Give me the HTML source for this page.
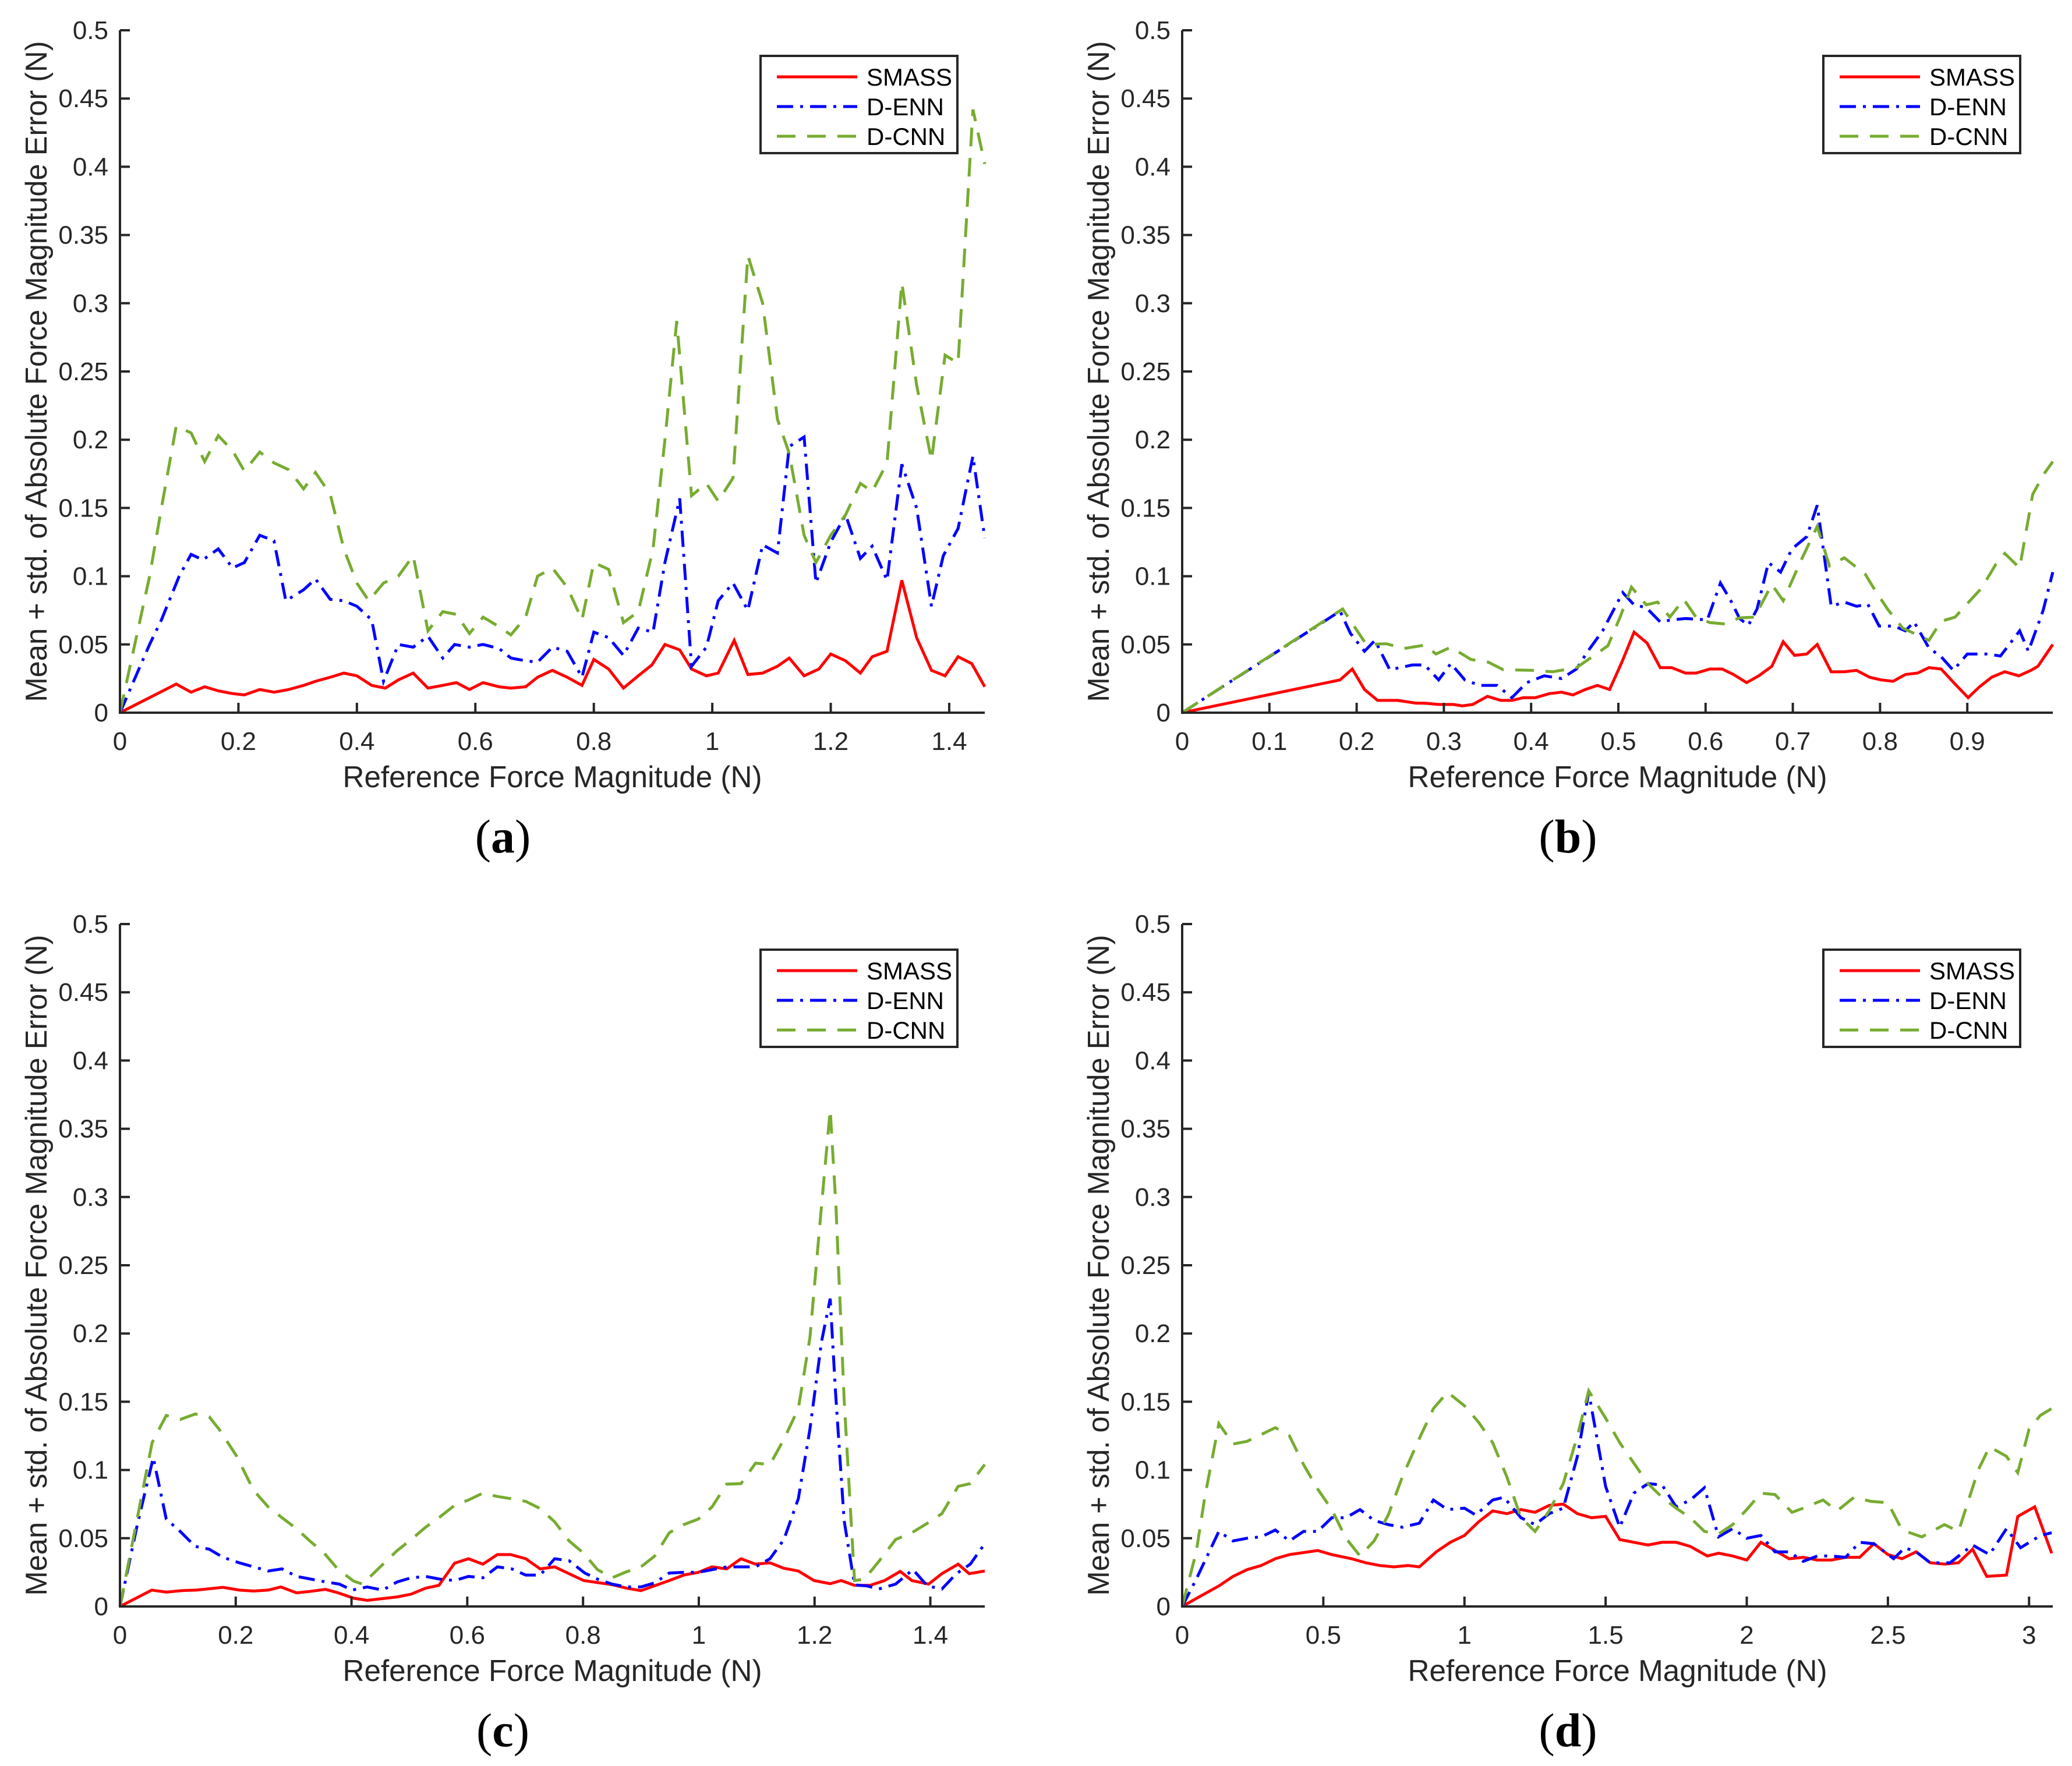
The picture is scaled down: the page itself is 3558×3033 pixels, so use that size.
<!DOCTYPE html>
<html><head><meta charset="utf-8">
<style>
html,body{margin:0;padding:0;background:#fff;}
svg{display:block;}
text{font-family:"Liberation Sans",Arial,sans-serif;fill:#262626;}
</style></head>
<body>
<svg id="fig" width="3558" height="3033" viewBox="0 0 3558 3033" xmlns="http://www.w3.org/2000/svg"></svg>
<script>
// ---------- Panel (a) data ----------
const aSmassX=[0,0.095,0.12,0.143,0.166,0.19,0.21,0.236,0.26,0.285,0.31,0.33,0.355,0.378,0.40,0.425,0.448,0.47,0.495,0.52,0.545,0.568,0.59,0.613,0.64,0.66,0.685,0.705,0.73,0.755,0.78,0.80,0.825,0.85,0.875,0.898,0.92,0.945,0.965,0.99,1.01,1.037,1.06,1.085,1.11,1.13,1.155,1.18,1.2,1.225,1.25,1.27,1.295,1.32,1.345,1.37,1.393,1.415,1.438,1.46];
const aSmassY=[0,0.021,0.015,0.019,0.016,0.014,0.013,0.017,0.015,0.017,0.020,0.023,0.026,0.029,0.027,0.020,0.018,0.024,0.029,0.018,0.020,0.022,0.017,0.022,0.019,0.018,0.019,0.026,0.031,0.026,0.020,0.039,0.032,0.018,0.027,0.035,0.050,0.046,0.032,0.027,0.029,0.053,0.028,0.029,0.034,0.040,0.027,0.032,0.043,0.038,0.029,0.041,0.045,0.097,0.055,0.031,0.027,0.041,0.036,0.019];
const aEnnX=[0,0.05,0.07,0.1,0.12,0.14,0.166,0.19,0.21,0.236,0.26,0.28,0.31,0.33,0.355,0.378,0.40,0.425,0.445,0.47,0.495,0.52,0.545,0.565,0.59,0.613,0.64,0.66,0.685,0.705,0.73,0.755,0.78,0.80,0.825,0.85,0.875,0.9,0.92,0.945,0.965,0.99,1.01,1.035,1.06,1.085,1.11,1.13,1.155,1.175,1.2,1.225,1.25,1.27,1.295,1.32,1.345,1.37,1.39,1.415,1.44,1.46];
const aEnnY=[0,0.05,0.068,0.10,0.116,0.112,0.120,0.106,0.110,0.130,0.126,0.082,0.090,0.098,0.083,0.082,0.078,0.068,0.023,0.050,0.048,0.056,0.040,0.050,0.048,0.050,0.047,0.040,0.038,0.037,0.048,0.045,0.026,0.059,0.055,0.042,0.062,0.059,0.110,0.157,0.034,0.048,0.082,0.095,0.075,0.123,0.117,0.195,0.202,0.095,0.125,0.145,0.113,0.122,0.097,0.182,0.150,0.078,0.115,0.135,0.188,0.128];
const aCnnX=[0,0.05,0.07,0.095,0.12,0.143,0.166,0.19,0.21,0.236,0.26,0.285,0.31,0.33,0.355,0.378,0.40,0.42,0.445,0.47,0.495,0.52,0.545,0.568,0.59,0.613,0.64,0.66,0.685,0.705,0.73,0.755,0.78,0.80,0.825,0.85,0.875,0.9,0.92,0.94,0.965,0.99,1.01,1.035,1.06,1.085,1.11,1.13,1.155,1.175,1.2,1.225,1.25,1.27,1.295,1.32,1.345,1.37,1.393,1.415,1.44,1.46];
const aCnnY=[0,0.100,0.150,0.210,0.205,0.184,0.203,0.192,0.177,0.191,0.183,0.178,0.164,0.176,0.160,0.120,0.095,0.082,0.095,0.100,0.115,0.060,0.074,0.072,0.058,0.070,0.063,0.057,0.070,0.100,0.106,0.092,0.068,0.110,0.105,0.066,0.074,0.120,0.200,0.287,0.159,0.168,0.155,0.172,0.335,0.300,0.215,0.190,0.130,0.110,0.130,0.145,0.168,0.162,0.183,0.315,0.240,0.185,0.262,0.256,0.442,0.402];
// ---------- Panel (b) data ----------
const bSmassX=[0,0.181,0.195,0.209,0.224,0.247,0.268,0.278,0.294,0.311,0.321,0.333,0.350,0.365,0.378,0.391,0.405,0.421,0.435,0.448,0.462,0.476,0.490,0.504,0.518,0.533,0.548,0.561,0.577,0.589,0.605,0.619,0.632,0.647,0.661,0.676,0.689,0.702,0.716,0.728,0.744,0.759,0.773,0.788,0.801,0.815,0.829,0.843,0.856,0.870,0.886,0.901,0.914,0.928,0.943,0.959,0.973,0.981,0.998];
const bSmassY=[0,0.024,0.032,0.017,0.009,0.009,0.007,0.007,0.006,0.006,0.005,0.006,0.012,0.009,0.009,0.011,0.011,0.014,0.015,0.013,0.017,0.020,0.017,0.037,0.059,0.051,0.033,0.033,0.029,0.029,0.032,0.032,0.028,0.022,0.027,0.034,0.052,0.042,0.043,0.050,0.030,0.030,0.031,0.026,0.024,0.023,0.028,0.029,0.033,0.032,0.021,0.011,0.019,0.026,0.030,0.027,0.031,0.034,0.050];
const bEnnX=[0,0.181,0.193,0.209,0.221,0.238,0.264,0.278,0.294,0.308,0.324,0.341,0.361,0.378,0.395,0.415,0.435,0.452,0.465,0.482,0.505,0.518,0.532,0.548,0.561,0.577,0.602,0.617,0.629,0.639,0.649,0.659,0.672,0.686,0.699,0.716,0.728,0.744,0.759,0.773,0.786,0.799,0.816,0.829,0.839,0.856,0.870,0.884,0.900,0.923,0.938,0.960,0.970,0.987,0.998];
const bEnnY=[0,0.0744,0.058,0.045,0.053,0.0315,0.035,0.035,0.024,0.036,0.024,0.020,0.020,0.011,0.022,0.027,0.025,0.032,0.045,0.060,0.088,0.079,0.077,0.0665,0.068,0.069,0.068,0.095,0.082,0.069,0.064,0.076,0.110,0.103,0.120,0.129,0.152,0.078,0.081,0.078,0.0795,0.0635,0.0635,0.060,0.0665,0.0475,0.041,0.031,0.043,0.043,0.0415,0.060,0.045,0.075,0.103];
const bCnnX=[0,0.184,0.197,0.211,0.234,0.254,0.278,0.291,0.308,0.331,0.351,0.368,0.401,0.425,0.452,0.468,0.488,0.502,0.515,0.532,0.545,0.559,0.575,0.589,0.605,0.622,0.639,0.656,0.676,0.689,0.709,0.728,0.742,0.759,0.783,0.793,0.809,0.826,0.856,0.870,0.886,0.903,0.916,0.933,0.943,0.960,0.975,0.988,0.998];
const bCnnY=[0,0.076,0.0635,0.050,0.0505,0.047,0.0495,0.043,0.048,0.039,0.037,0.0315,0.031,0.030,0.033,0.040,0.049,0.070,0.092,0.079,0.081,0.070,0.083,0.070,0.066,0.065,0.0695,0.070,0.094,0.082,0.111,0.1365,0.1075,0.1135,0.1015,0.091,0.0755,0.062,0.053,0.067,0.070,0.082,0.091,0.109,0.1167,0.106,0.160,0.175,0.184];
// ---------- Panel (c) data ----------
const cSmassX=[0,0.055,0.080,0.107,0.132,0.178,0.206,0.231,0.256,0.278,0.305,0.328,0.355,0.377,0.404,0.427,0.479,0.503,0.528,0.551,0.578,0.602,0.627,0.652,0.675,0.701,0.726,0.751,0.776,0.801,0.850,0.875,0.900,0.949,0.974,0.999,1.023,1.048,1.073,1.098,1.123,1.147,1.172,1.199,1.227,1.246,1.269,1.296,1.321,1.348,1.368,1.397,1.420,1.448,1.467,1.494];
const cSmassY=[0,0.012,0.0105,0.0116,0.012,0.014,0.012,0.0113,0.012,0.0143,0.010,0.011,0.0125,0.010,0.006,0.0045,0.007,0.009,0.0134,0.0155,0.0317,0.035,0.031,0.038,0.038,0.035,0.0275,0.029,0.024,0.019,0.016,0.0134,0.0116,0.019,0.023,0.025,0.029,0.0275,0.035,0.031,0.032,0.028,0.026,0.019,0.0167,0.019,0.0155,0.0155,0.019,0.0257,0.019,0.0164,0.024,0.031,0.024,0.026];
const cEnnX=[0,0.03,0.0575,0.080,0.104,0.130,0.154,0.178,0.206,0.231,0.256,0.280,0.305,0.330,0.355,0.379,0.401,0.427,0.454,0.479,0.503,0.528,0.553,0.578,0.602,0.627,0.652,0.677,0.701,0.726,0.751,0.776,0.803,0.825,0.850,0.875,0.900,0.924,0.949,0.974,0.999,1.048,1.098,1.123,1.147,1.172,1.192,1.212,1.227,1.236,1.251,1.269,1.291,1.311,1.340,1.370,1.395,1.420,1.445,1.469,1.494];
const cEnnY=[0,0.06,0.109,0.064,0.055,0.044,0.042,0.036,0.032,0.029,0.026,0.0275,0.022,0.020,0.018,0.0164,0.012,0.0143,0.012,0.018,0.021,0.022,0.020,0.019,0.022,0.021,0.029,0.0275,0.023,0.023,0.035,0.0335,0.0245,0.020,0.0164,0.0143,0.0143,0.0173,0.0245,0.025,0.025,0.029,0.029,0.035,0.049,0.079,0.130,0.194,0.2255,0.158,0.063,0.0158,0.015,0.0128,0.0164,0.027,0.015,0.0128,0.024,0.031,0.046];
const cCnnX=[0,0.0555,0.080,0.104,0.130,0.154,0.171,0.201,0.231,0.256,0.280,0.305,0.328,0.353,0.377,0.404,0.419,0.452,0.479,0.503,0.528,0.553,0.578,0.602,0.627,0.652,0.675,0.701,0.726,0.751,0.776,0.801,0.825,0.850,0.875,0.900,0.924,0.949,0.974,0.999,1.023,1.048,1.073,1.098,1.123,1.147,1.172,1.192,1.210,1.227,1.237,1.251,1.269,1.286,1.311,1.340,1.368,1.395,1.420,1.448,1.469,1.494];
const cCnnY=[0,0.120,0.140,0.137,0.141,0.139,0.130,0.1105,0.085,0.073,0.065,0.057,0.048,0.039,0.027,0.0185,0.0164,0.030,0.041,0.049,0.058,0.0657,0.074,0.078,0.083,0.0806,0.079,0.077,0.0717,0.062,0.048,0.039,0.027,0.021,0.0254,0.029,0.037,0.054,0.060,0.064,0.073,0.0896,0.090,0.105,0.104,0.1225,0.145,0.197,0.284,0.364,0.293,0.152,0.019,0.020,0.033,0.049,0.054,0.061,0.068,0.088,0.090,0.104];
// ---------- Panel (d) data ----------
const dSmassX=[0,0.06,0.13,0.18,0.23,0.28,0.33,0.38,0.48,0.53,0.6,0.65,0.7,0.75,0.8,0.84,0.9,0.95,1.0,1.05,1.1,1.15,1.2,1.25,1.3,1.35,1.4,1.45,1.5,1.55,1.6,1.65,1.7,1.75,1.8,1.86,1.9,1.95,2.0,2.05,2.1,2.15,2.2,2.25,2.3,2.35,2.4,2.45,2.5,2.55,2.6,2.65,2.7,2.75,2.8,2.85,2.92,2.96,3.02,3.08];
const dSmassY=[0,0.007,0.015,0.022,0.027,0.030,0.035,0.038,0.041,0.038,0.035,0.032,0.030,0.029,0.030,0.029,0.040,0.047,0.052,0.062,0.070,0.068,0.071,0.069,0.074,0.075,0.068,0.065,0.066,0.049,0.047,0.045,0.047,0.047,0.044,0.037,0.039,0.037,0.034,0.047,0.041,0.035,0.036,0.034,0.034,0.036,0.036,0.046,0.038,0.035,0.040,0.032,0.031,0.032,0.042,0.022,0.023,0.066,0.073,0.039];
const dEnnX=[0,0.05,0.13,0.18,0.23,0.28,0.33,0.38,0.43,0.48,0.53,0.58,0.63,0.68,0.73,0.78,0.84,0.89,0.94,1.0,1.04,1.1,1.14,1.2,1.25,1.3,1.35,1.4,1.44,1.5,1.55,1.6,1.65,1.7,1.75,1.8,1.85,1.9,1.95,2.0,2.05,2.1,2.15,2.2,2.25,2.3,2.35,2.4,2.45,2.52,2.56,2.6,2.65,2.72,2.8,2.86,2.92,2.97,3.04,3.08];
const dEnnY=[0,0.02,0.055,0.048,0.050,0.051,0.056,0.048,0.055,0.055,0.065,0.065,0.071,0.063,0.060,0.058,0.061,0.078,0.071,0.072,0.067,0.078,0.080,0.065,0.060,0.068,0.072,0.110,0.157,0.088,0.058,0.083,0.090,0.089,0.073,0.078,0.087,0.051,0.057,0.050,0.052,0.040,0.040,0.033,0.037,0.037,0.036,0.047,0.046,0.035,0.043,0.040,0.032,0.032,0.045,0.038,0.057,0.043,0.052,0.054];
const dCnnX=[0,0.05,0.08,0.13,0.18,0.23,0.33,0.38,0.43,0.48,0.53,0.58,0.63,0.68,0.73,0.78,0.84,0.89,0.94,1.0,1.05,1.1,1.15,1.2,1.25,1.3,1.35,1.4,1.44,1.5,1.55,1.6,1.65,1.7,1.75,1.8,1.85,1.9,1.95,2.0,2.05,2.1,2.16,2.2,2.27,2.32,2.38,2.44,2.5,2.55,2.62,2.7,2.75,2.82,2.86,2.92,2.96,3.0,3.04,3.08];
const dCnnY=[0,0.04,0.08,0.134,0.119,0.121,0.131,0.125,0.104,0.086,0.071,0.050,0.037,0.048,0.067,0.095,0.123,0.145,0.157,0.147,0.135,0.120,0.095,0.065,0.055,0.070,0.090,0.125,0.158,0.138,0.120,0.105,0.090,0.080,0.072,0.065,0.055,0.053,0.060,0.071,0.083,0.082,0.069,0.072,0.078,0.070,0.080,0.077,0.076,0.056,0.051,0.060,0.055,0.100,0.117,0.110,0.098,0.130,0.140,0.145];
// ---------- Tick labels ----------
const yTicks=[0,0.05,0.1,0.15,0.2,0.25,0.3,0.35,0.4,0.45,0.5];
const yTickLabels=["0","0.05","0.1","0.15","0.2","0.25","0.3","0.35","0.4","0.45","0.5"];
const aXTicks=[0,0.2,0.4,0.6,0.8,1,1.2,1.4];
const bXTicks=[0,0.1,0.2,0.3,0.4,0.5,0.6,0.7,0.8,0.9];
const cXTicks=[0,0.2,0.4,0.6,0.8,1,1.2,1.4];
const dXTicks=[0,0.5,1,1.5,2,2.5,3];
const seriesNames=["SMASS","D-ENN","D-CNN"];

const NS="http://www.w3.org/2000/svg";
const svg=document.getElementById('fig');
function mk(tag,attrs,parent){const e=document.createElementNS(NS,tag);for(const k in attrs)e.setAttribute(k,attrs[k]);(parent||svg).appendChild(e);return e;}

const styles=[
 {color:"#ff0000",dash:"none"},
 {color:"#0000ff",dash:"28,12,5,12"},
 {color:"#77ac30",dash:"32,20"}
];

const panels=[
 {id:"a",x0:206,y0:1224,w:1485,h:1172,xmax:1.46,xt:aXTicks,series:[[aSmassX,aSmassY],[aEnnX,aEnnY],[aCnnX,aCnnY]]},
 {id:"b",x0:2030,y0:1224,w:1495,h:1172,xmax:0.998,xt:bXTicks,series:[[bSmassX,bSmassY],[bEnnX,bEnnY],[bCnnX,bCnnY]]},
 {id:"c",x0:206,y0:2759,w:1485,h:1172,xmax:1.494,xt:cXTicks,series:[[cSmassX,cSmassY],[cEnnX,cEnnY],[cCnnX,cCnnY]]},
 {id:"d",x0:2030,y0:2759,w:1495,h:1172,xmax:3.084,xt:dXTicks,series:[[dSmassX,dSmassY],[dEnnX,dEnnY],[dCnnX,dCnnY]]}
];

panels.forEach(p=>{
  const g=mk('g',{});
  
  
  const sx=v=>p.x0+v/p.xmax*p.w;
  const sy=v=>p.y0-v/0.5*p.h;
  const top=sy(0.5), right=p.x0+p.w;
  // series
  p.series.forEach((s,i)=>{
    const pts=s[0].map((x,j)=>sx(x).toFixed(1)+","+sy(s[1][j]).toFixed(1)).join(" ");
    const pl=mk('polyline',{points:pts,fill:"none",stroke:styles[i].color,"stroke-width":5,"stroke-linejoin":"miter","stroke-dasharray":styles[i].dash},g);
    
    
  });
  // axes
  const ax=mk('path',{d:`M${p.x0},${top} L${p.x0},${p.y0} L${right},${p.y0}`,fill:"none",stroke:"#262626","stroke-width":4},g);
  
  
  // y ticks
  yTicks.forEach((t,i)=>{
    const y=sy(t);
    mk('line',{x1:p.x0,x2:p.x0+17,y1:y,y2:y,stroke:"#262626","stroke-width":4},g);
    const tx=mk('text',{x:p.x0-20,y:y+15,"font-size":44,"text-anchor":"end"},g);
    tx.textContent=yTickLabels[i];
    
    
  });
  // x ticks
  p.xt.forEach(t=>{
    const x=sx(t);
    mk('line',{x1:x,x2:x,y1:p.y0,y2:p.y0-17,stroke:"#262626","stroke-width":4},g);
    const tx=mk('text',{x:x,y:p.y0+64,"font-size":44,"text-anchor":"middle"},g);
    tx.textContent=String(t);
    
    
  });
  // axis titles
  const xl=mk('text',{x:p.x0+p.w/2,y:p.y0+128,"font-size":52,"text-anchor":"middle",textLength:720,lengthAdjust:"spacingAndGlyphs"},g);
  xl.textContent="Reference Force Magnitude (N)";
  
  
  const cy=(top+p.y0)/2;
  const yl=mk('text',{x:0,y:0,"font-size":52,"text-anchor":"middle",textLength:1135,lengthAdjust:"spacingAndGlyphs",transform:`translate(${p.x0-126},${cy}) rotate(-90)`},g);
  yl.textContent="Mean + std. of Absolute Force Magnitude Error (N)";
  
  
  // legend
  const lr=p.id==="a"||p.id==="c"?1644:3469;
  const lt=p.y0-1128;
  const lx=lr-338;
  const lg=mk('g',{},g);
  
  
  mk('rect',{x:lx,y:lt,width:338,height:167,fill:"#fff",stroke:"#262626","stroke-width":4},lg);
  seriesNames.forEach((n,i)=>{
    const yy=lt+36+i*51;
    const ll=mk('line',{x1:lx+28,x2:lx+166,y1:yy,y2:yy,stroke:styles[i].color,"stroke-width":5,"stroke-dasharray":styles[i].dash},lg);
    
    
    const lt2=mk('text',{x:lx+182,y:yy+15,"font-size":42,style:"fill:#000"},lg);
    lt2.textContent=n;
    
    
  });
  // caption
  const cap=mk('text',{x:p.x0+p.w/2-85,y:p.y0+240,"font-size":82,"text-anchor":"middle",style:"font-family:'Liberation Serif',serif;fill:#000"},g);
  cap.innerHTML='(<tspan font-weight="bold">'+p.id+'</tspan>)';
  
  
});
</script>
</body></html>
